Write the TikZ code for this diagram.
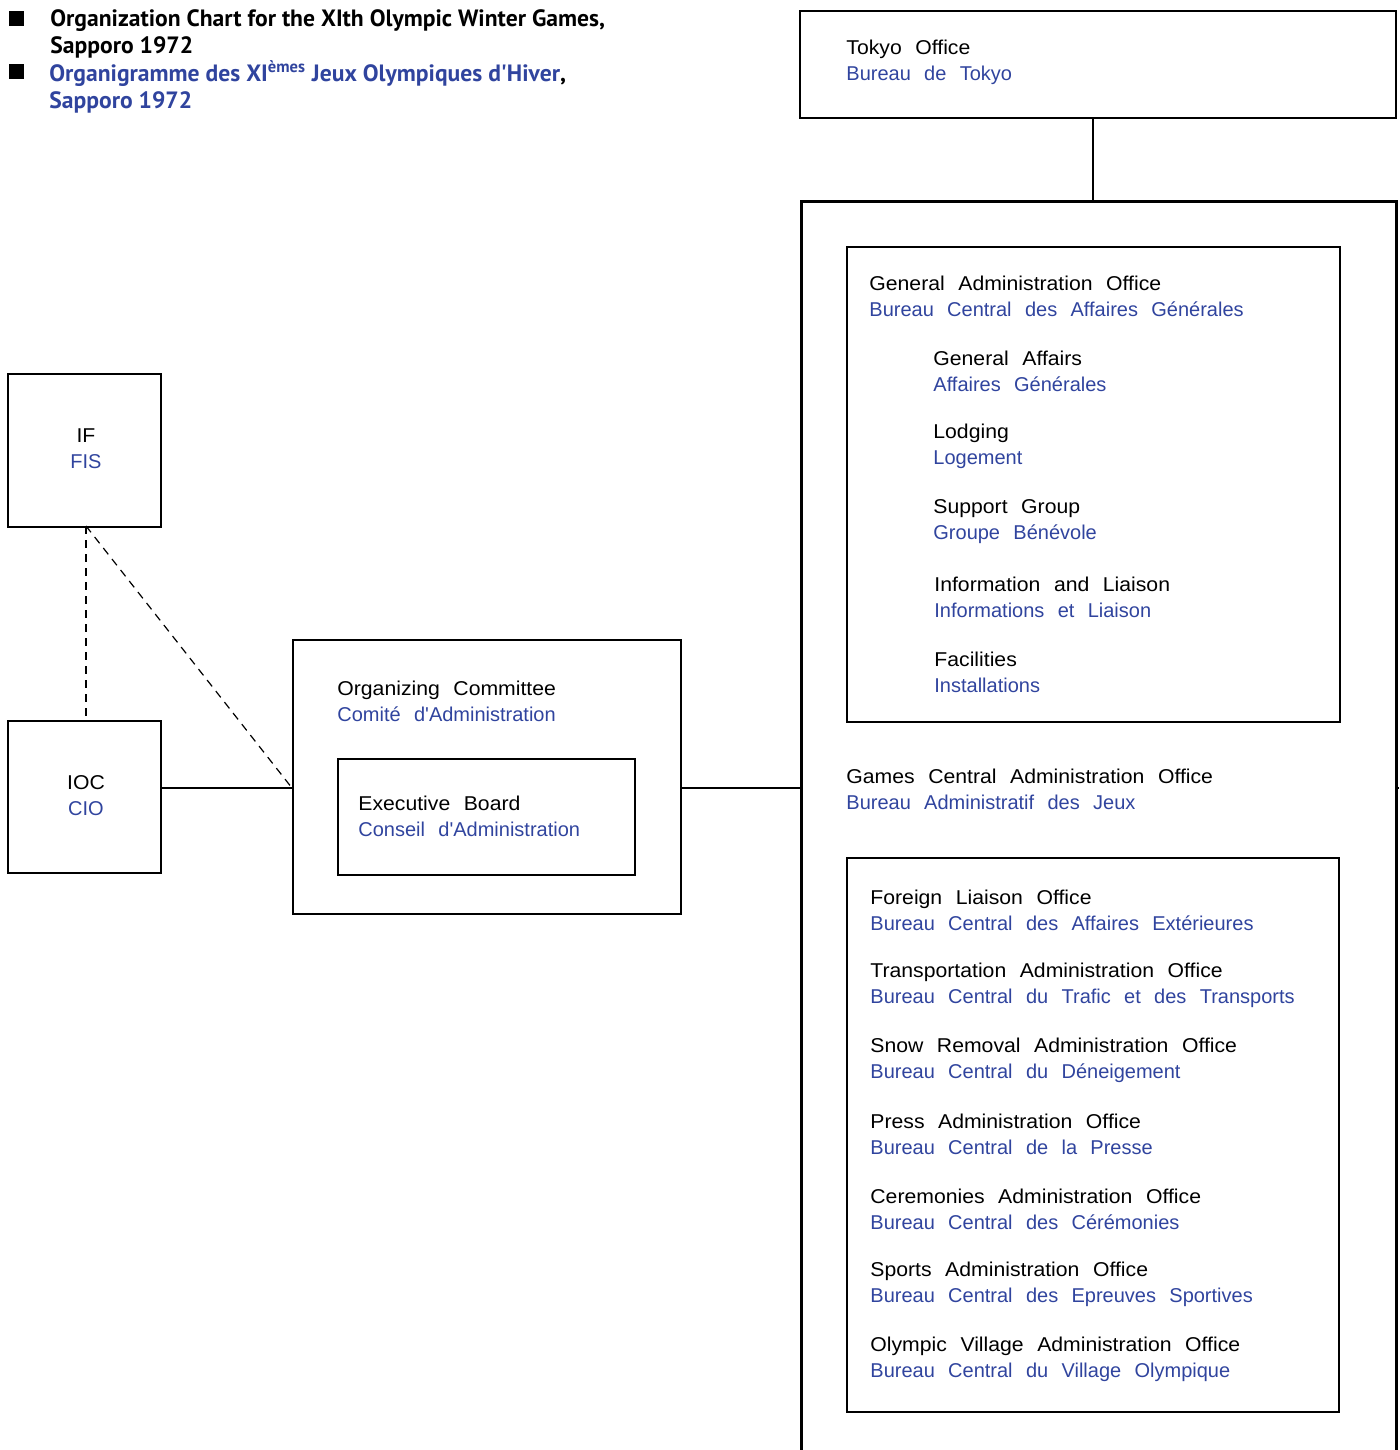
\documentclass[tikz,border=0pt]{standalone}
\usepackage{fontspec}
\setmainfont[WordSpace=2.4,Ligatures=TeXOff]{Liberation Sans}
\newfontfamily\blkfont[WordSpace=2.3,FakeStretch=1.06]{Liberation Sans}
\newfontfamily\titlefont[WordSpace=1.0]{PT Sans}
\definecolor{fblue}{RGB}{48,68,158}
\newcommand{\aq}{\char"0027\relax}
\newcommand{\bl}[2]{{\blkfont #1}\\\textcolor{fblue}{#2}}
\begin{document}
\begin{tikzpicture}[x=0.5pt,y=-0.5pt,
  box/.style={draw, line width=0.8pt, anchor=north west, inner sep=0pt},
  bigbox/.style={draw, line width=1.6pt, anchor=north west, inner sep=0pt},
  lbl/.style={anchor=west, align=left, inner sep=0pt, font=\fontsize{10}{13}\selectfont},
  clbl/.style={anchor=center, align=center, inner sep=0pt, font=\fontsize{10}{13}\selectfont},
  ttl/.style={anchor=west, align=left, inner sep=0pt, font=\titlefont\bfseries\fontsize{11.8}{13.5}\selectfont},
  conn/.style={line width=0.8pt},
  dconn/.style={line width=0.6pt, dash pattern=on 4pt off 3pt}]
\useasboundingbox (0,0) rectangle (1399,1450);
\clip (0,0) rectangle (1399,1450);
% title
\node[fill=black, minimum size=7.5pt, inner sep=0pt, anchor=north west] (b1) at (9,11) {};
\node[fill=black, minimum size=7.5pt, inner sep=0pt, anchor=north west] (b2) at (9,64) {};
\node[ttl] (t1) at (50,34) {Organization Chart for the XIth Olympic Winter Games,\\Sapporo 1972};
\node[ttl, text=fblue] (t2) at (49,87) {Organigramme des XI\textsuperscript{èmes} Jeux Olympiques d\aq Hiver\textcolor{black}{,}\\Sapporo 1972};
% Tokyo
\node[box, minimum width=298pt, minimum height=53.5pt] (tokyo) at (799,10) {};
\node[lbl] (tokyoT) at (846,62) {\bl{Tokyo Office}{Bureau de Tokyo}};
% big box
\node[bigbox, minimum width=297.5pt, minimum height=640pt] (big) at (800,200) {};
\draw[conn] (tokyo.south -| 1093,0) -- (big.north -| 1093,0);
\coordinate (rtick) at (1399,788);
\draw[conn] (big.east |- rtick) -- (rtick);
% GA box
\node[box, minimum width=246.5pt, minimum height=237.5pt] (ga) at (846,246) {};
\node[lbl] (gaT) at (869,296) {\bl{General Administration Office}{Bureau Central des Affaires Générales}};
\node[lbl] (ga1) at (933,371) {\bl{General Affairs}{Affaires Générales}};
\node[lbl] (ga2) at (933,446) {\bl{Lodging}{Logement}};
\node[lbl] (ga3) at (933,522) {\bl{Support Group}{Groupe Bénévole}};
\node[lbl] (ga4) at (934,597) {\bl{Information and Liaison}{Informations et Liaison}};
\node[lbl] (ga5) at (934,672) {\bl{Facilities}{Installations}};
% Games central
\node[lbl] (gc) at (846,789) {\bl{Games Central Administration Office}{Bureau Administratif des Jeux}};
% lower box
\node[box, minimum width=246pt, minimum height=277pt] (lo) at (846,857) {};
\node[lbl] (l1) at (870,910) {\bl{Foreign Liaison Office}{Bureau Central des Affaires Extérieures}};
\node[lbl] (l2) at (870,985) {\bl{Transportation Administration Office}{Bureau Central du Trafic et des Transports}};
\node[lbl] (l3) at (870,1060) {\bl{Snow Removal Administration Office}{Bureau Central du Déneigement}};
\node[lbl] (l4) at (870,1134) {\bl{Press Administration Office}{Bureau Central de la Presse}};
\node[lbl] (l5) at (870,1209) {\bl{Ceremonies Administration Office}{Bureau Central des Cérémonies}};
\node[lbl] (l6) at (870,1284) {\bl{Sports Administration Office}{Bureau Central des Epreuves Sportives}};
\node[lbl] (l7) at (870,1359) {\bl{Olympic Village Administration Office}{Bureau Central du Village Olympique}};
% IF, IOC
\node[box, minimum width=76.5pt, minimum height=76.5pt] (if) at (7,373) {};
\node[clbl] (ifT) at (86,449) {\bl{IF}{FIS}};
\node[box, minimum width=76.5pt, minimum height=76pt] (ioc) at (7,720) {};
\node[clbl] (iocT) at (86,796) {\bl{IOC}{CIO}};
% OC
\node[box, minimum width=194pt, minimum height=137pt] (oc) at (292,639) {};
\node[lbl] (ocT) at (337,701) {\bl{Organizing Committee}{Comité d\aq Administration}};
\node[box, minimum width=148.5pt, minimum height=58pt] (eb) at (337,758) {};
\node[lbl] (ebT) at (358,816) {\bl{Executive Board}{Conseil d\aq Administration}};
% connectors
\coordinate (ifb) at (86,526);
\coordinate (ioct) at (86,720);
\coordinate (occ) at (292,788);
\draw[dconn] (ifb) -- (ioct);
\draw[dconn] (ifb) -- (occ);
\draw[conn] (ioc.east |- occ) -- (oc.west |- occ);
\draw[conn] (oc.east |- occ) -- (big.west |- occ);
\end{tikzpicture}
\end{document}
